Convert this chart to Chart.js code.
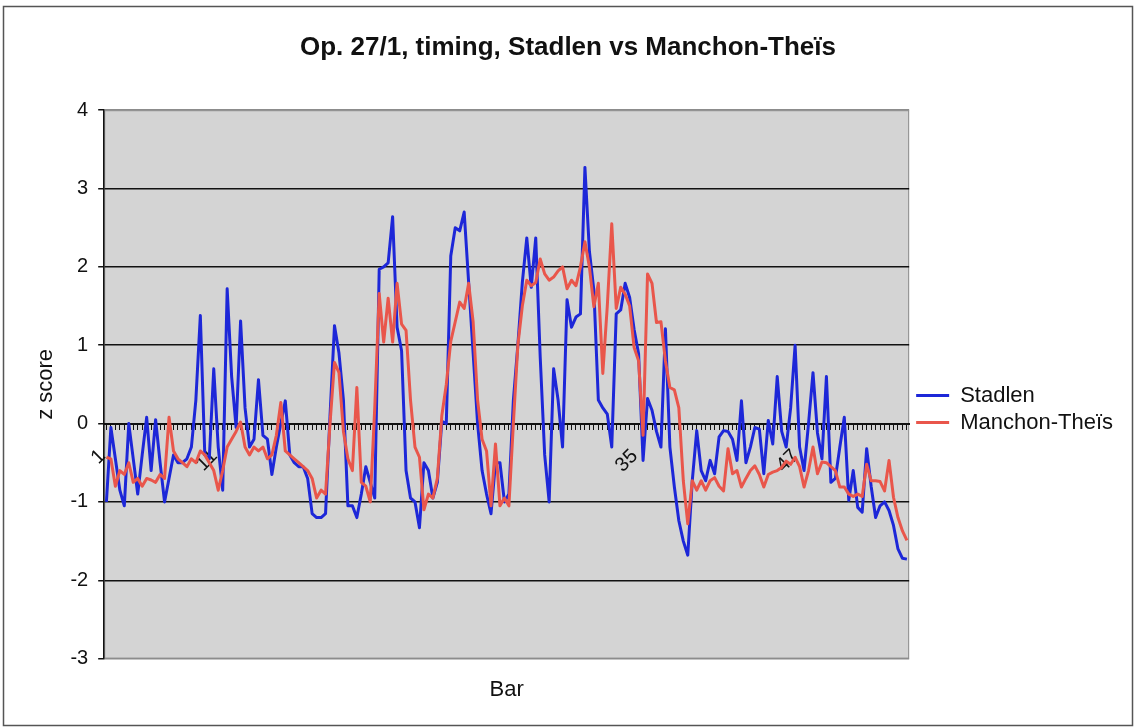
<!DOCTYPE html>
<html>
<head>
<meta charset="utf-8">
<script src="https://cdn.jsdelivr.net/npm/chart.js@4.4.1/dist/chart.umd.min.js"></script>
<style>
  html, body { margin: 0; padding: 0; background: #fff; }
  #wrap { width: 1136px; height: 728px; }
</style>
</head>
<body>
<div id="wrap"><canvas id="chart" width="1136" height="728"></canvas></div>
<script>
// z scores per beat
const stadlen = [
  -1.0, -0.05, -0.45, -0.85, -1.05, 0.0, -0.45, -0.9, -0.4, 0.08, -0.6, 0.05, -0.5, -1.0, -0.7, -0.4, -0.5, -0.5, -0.45, -0.3,
  0.3, 1.38, -0.4, -0.45, 0.7, -0.3, -0.85, 1.72, 0.6, -0.05, 1.31, 0.2, -0.3, -0.2, 0.56, -0.15, -0.2, -0.65, -0.3, 0.0,
  0.29, -0.4, -0.5, -0.55, -0.55, -0.7, -1.15, -1.2, -1.2, -1.15, 0.1, 1.25, 0.9, 0.3, -1.05, -1.05, -1.2, -0.9, -0.55, -0.75,
  -0.95, 1.97, 2.0, 2.05, 2.64, 1.23, 0.93, -0.6, -0.95, -1.0, -1.33, -0.5, -0.6, -0.95, -0.75, 0.03, 0.0, 2.14, 2.5, 2.46,
  2.7, 1.8, 0.9, 0.0, -0.6, -0.9, -1.15, -0.5, -0.5, -1.0, -0.9, 0.3, 1.0, 1.8, 2.37, 1.74, 2.37, 0.85, -0.4, -1.0,
  0.7, 0.3, -0.3, 1.58, 1.23, 1.36, 1.4, 3.27, 2.2, 1.7, 0.3, 0.2, 0.12, -0.3, 1.4, 1.45, 1.79, 1.61, 1.2, 0.89,
  -0.47, 0.32, 0.17, -0.1, -0.3, 1.21, -0.3, -0.81, -1.24, -1.5, -1.68, -0.73, -0.09, -0.6, -0.73, -0.47, -0.64, -0.17, -0.09, -0.1,
  -0.2, -0.47, 0.29, -0.5, -0.3, -0.05, -0.07, -0.64, 0.04, -0.26, 0.6, -0.1, -0.3, 0.2, 1.0, -0.3, -0.6, 0.0, 0.65, -0.12,
  -0.45, 0.6, -0.75, -0.7, -0.3, 0.08, -0.98, -0.6, -1.07, -1.13, -0.32, -0.8, -1.2, -1.05, -1.0, -1.11, -1.3, -1.6, -1.72, -1.73
];
const manchon = [
  -0.43, -0.45, -0.8, -0.6, -0.65, -0.5, -0.75, -0.7, -0.8, -0.7, -0.72, -0.75, -0.65, -0.7, 0.08, -0.35, -0.45, -0.5, -0.55, -0.45,
  -0.5, -0.35, -0.4, -0.5, -0.6, -0.85, -0.6, -0.3, -0.2, -0.1, 0.02, -0.3, -0.4, -0.3, -0.35, -0.3, -0.45, -0.4, -0.15, 0.27,
  -0.35, -0.4, -0.45, -0.5, -0.55, -0.6, -0.7, -0.95, -0.85, -0.9, 0.0, 0.78, 0.65, -0.1, -0.45, -0.6, 0.46, -0.75, -0.8, -1.0,
  0.2, 1.66, 1.04, 1.6, 1.04, 1.79, 1.27, 1.19, 0.3, -0.3, -0.43, -1.1, -0.9, -0.95, -0.7, 0.1, 0.5, 1.05, 1.3, 1.55,
  1.47, 1.79, 1.3, 0.3, -0.2, -0.35, -1.05, -0.26, -1.05, -0.95, -1.05, 0.0, 1.0, 1.5, 1.83, 1.76, 1.8, 2.1, 1.91, 1.83,
  1.87, 1.95, 2.0, 1.72, 1.83, 1.76, 2.0, 2.32, 2.0, 1.49, 1.79, 0.64, 1.5, 2.55, 1.47, 1.74, 1.65, 1.5, 0.97, 0.8,
  -0.15, 1.91, 1.79, 1.29, 1.3, 0.8, 0.46, 0.43, 0.2, -0.73, -1.28, -0.73, -0.85, -0.73, -0.85, -0.73, -0.69, -0.8, -0.86, -0.32,
  -0.64, -0.6, -0.81, -0.7, -0.6, -0.54, -0.65, -0.81, -0.65, -0.62, -0.6, -0.56, -0.48, -0.52, -0.43, -0.55, -0.81, -0.6, -0.3, -0.64,
  -0.49, -0.5, -0.55, -0.6, -0.81, -0.81, -0.9, -0.93, -0.9, -0.93, -0.52, -0.73, -0.73, -0.74, -0.86, -0.47, -0.94, -1.2, -1.37, -1.49
];
// bar numbers shown under the zero line: [beat index, label]
const barMarks = [[0, '1'], [25, '11'], [119, '35'], [155, '47']];

const beats = stadlen.map(() => '');
barMarks.forEach(([idx, text]) => { beats[idx] = text; });

Chart.defaults.font.family = '"Liberation Sans", Arial, Helvetica, sans-serif';
Chart.defaults.color = '#111';

const plotBackground = {
  id: 'plotBackground',
  beforeDraw(chart) {
    const { ctx, chartArea: a } = chart;
    ctx.save();
    ctx.fillStyle = '#fff';
    ctx.fillRect(0, 0, chart.width, chart.height);
    ctx.fillStyle = '#d4d4d4';
    ctx.fillRect(a.left, a.top, a.width, a.height);
    ctx.strokeStyle = '#8c8c8c';
    ctx.lineWidth = 1;
    ctx.strokeRect(a.left + 0.5, a.top + 0.5, a.width - 1, a.height - 1);
    ctx.strokeStyle = '#555';
    ctx.lineWidth = 1.5;
    ctx.strokeRect(3.5, 6.5, chart.width - 7, chart.height - 9);
    ctx.restore();
  }
};

new Chart(document.getElementById('chart').getContext('2d'), {
  type: 'line',
  data: {
    labels: beats,
    datasets: [{
      label: 'Stadlen',
      data: stadlen,
      borderColor: '#1d27d8',
      backgroundColor: '#1d27d8',
      borderWidth: 3,
      pointRadius: 0,
      borderJoinStyle: 'round',
      tension: 0,
      order: 1
    }, {
      label: 'Manchon-Theïs',
      data: manchon,
      borderColor: '#e9564b',
      backgroundColor: '#e9564b',
      borderWidth: 3,
      pointRadius: 0,
      borderJoinStyle: 'round',
      tension: 0,
      order: 0
    }]
  },
  options: {
    responsive: false,
    animation: false,
    devicePixelRatio: 1,
    layout: { padding: { left: 13, right: 13, top: 0, bottom: 25 } },
    plugins: {
      title: {
        display: true,
        text: 'Op. 27/1, timing, Stadlen vs Manchon-Theïs',
        font: { size: 26, weight: 'bold' },
        color: '#111',
        padding: { top: 32, bottom: 47 }
      },
      legend: {
        position: 'right',
        maxWidth: 260,
        title: { display: true, text: ' ', font: { size: 10 }, padding: { top: 103, bottom: 0 } },
        labels: {
          usePointStyle: true,
          pointStyle: 'line',
          pointStyleWidth: 33,
          font: { size: 22 },
          color: '#111',
          padding: 5,
          sort: (a, b) => a.datasetIndex - b.datasetIndex
        }
      },
      tooltip: { enabled: false }
    },
    scales: {
      x: {
        type: 'category',
        position: { y: 0 },
        offset: true,
        grid: { drawOnChartArea: false, drawTicks: true, tickLength: 5, color: '#111', lineWidth: 1 },
        border: { display: true, color: '#111', width: 2 },
        ticks: { autoSkip: false, maxRotation: 45, minRotation: 45, padding: 16, labelOffset: -4, font: { size: 20 }, color: '#111' }
      },
      xTitle: {
        type: 'category',
        position: 'bottom',
        offset: true,
        grid: { display: false },
        border: { display: false },
        ticks: { display: false },
        title: { display: true, text: 'Bar', font: { size: 22 }, color: '#111', padding: { top: 10, bottom: 0 } }
      },
      y: {
        min: -3,
        max: 4,
        ticks: { stepSize: 1, font: { size: 20 }, color: '#111', padding: 10 },
        grid: {
          color: (c) => (c.tick && (c.tick.value === 4 || c.tick.value === -3)) ? '#8c8c8c' : '#111',
          lineWidth: 1.5,
          tickLength: 6,
          tickColor: '#111'
        },
        border: { color: '#111', width: 1.5 },
        title: { display: true, text: 'z score', font: { size: 22 }, color: '#111', padding: { top: 20, bottom: 1 } }
      },
      yGap: {
        position: 'right',
        grid: { display: false },
        border: { display: false },
        ticks: { display: false },
        afterFit: (scale) => { scale.width = 2; }
      }
    }
  },
  plugins: [plotBackground]
});
</script>
</body>
</html>
